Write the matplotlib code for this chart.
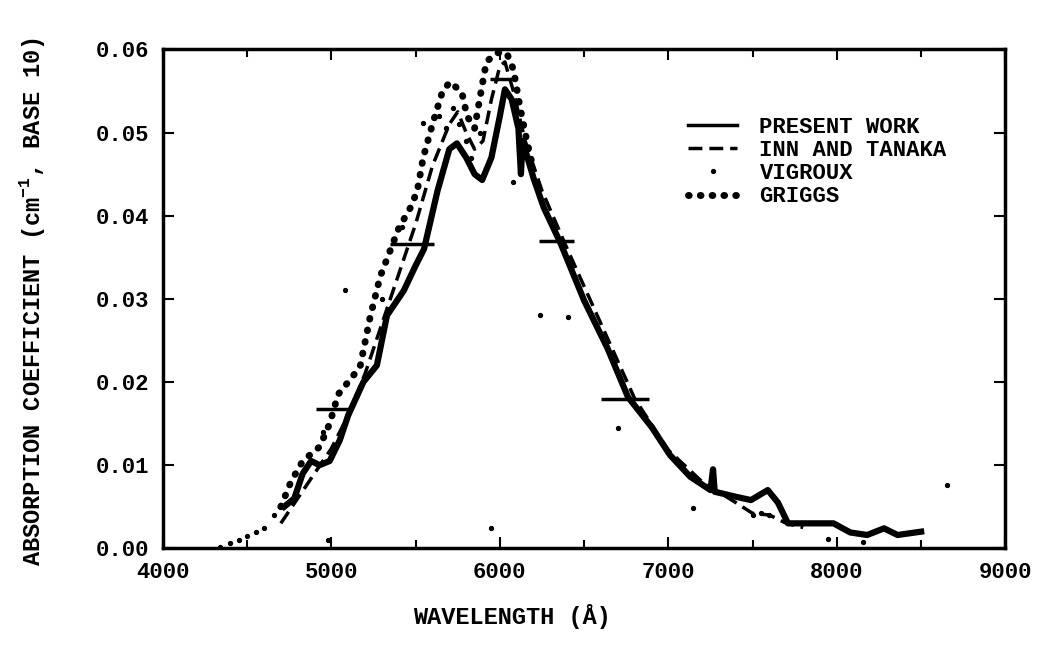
import matplotlib
matplotlib.use('Agg')
import matplotlib.pyplot as plt
from matplotlib.ticker import MultipleLocator

plt.rcParams['font.family'] = ['Liberation Mono', 'DejaVu Sans Mono']
plt.rcParams['font.weight'] = 'bold'
plt.rcParams['mathtext.fontset'] = 'custom'
plt.rcParams['mathtext.rm'] = 'Liberation Mono:bold'

# present work (solid)
pw_x = [4720, 4780, 4830, 4880, 4930, 4990, 5050, 5100, 5190, 5270, 5330, 5430,
        5500, 5550, 5630, 5700, 5745, 5800, 5850, 5895, 5950, 6000, 6030, 6070,
        6110, 6125, 6135, 6200, 6260, 6360, 6500, 6640, 6760, 6900, 7010, 7130,
        7250, 7265, 7275, 7400, 7490, 7590, 7650, 7710, 7850, 7980, 8080, 8180,
        8280, 8360, 8500]
pw_y = [0.0050, 0.0060, 0.0090, 0.0105, 0.0100, 0.0105, 0.0130, 0.0160, 0.0200,
        0.0220, 0.0280, 0.0310, 0.0340, 0.0360, 0.0430, 0.0480, 0.0487, 0.0470,
        0.0450, 0.0443, 0.0470, 0.0520, 0.0552, 0.0540, 0.0505, 0.0450, 0.0490,
        0.0445, 0.0410, 0.0367, 0.0298, 0.0240, 0.0182, 0.0146, 0.0112, 0.0086,
        0.0070, 0.0095, 0.0068, 0.0062, 0.0058, 0.0070, 0.0055, 0.0030, 0.0030,
        0.0030, 0.0019, 0.0016, 0.0024, 0.0016, 0.0020]

# Inn and Tanaka (dashed)
it_x = [4700, 4800, 4900, 5000, 5100, 5200, 5300, 5400, 5500, 5600, 5700, 5750,
        5800, 5850, 5900, 5950, 6000, 6030, 6080, 6150, 6250, 6400, 6600, 6800,
        7000, 7200, 7400, 7500, 7600, 7700, 7800]
it_y = [0.0030, 0.0060, 0.0090, 0.0120, 0.0160, 0.0210, 0.0270, 0.0330, 0.0390,
        0.0460, 0.0510, 0.0525, 0.0500, 0.0480, 0.0490, 0.0540, 0.0580, 0.0585,
        0.0550, 0.0490, 0.0430, 0.0360, 0.0270, 0.0180, 0.0118, 0.0080, 0.0055,
        0.0042, 0.0040, 0.0030, 0.0025]

# Vigroux (points)
vg_x = [4340, 4400, 4450, 4500, 4550, 4600, 4660, 4950, 4980, 5081, 5150, 5300,
        5420, 5544, 5640, 5680, 5720, 5760, 5800, 5830, 5880, 5945, 6080, 6239,
        6405, 6700, 7147, 7500, 7550, 7600, 7950, 8157, 8655]
vg_y = [0.0002, 0.0006, 0.0010, 0.0015, 0.0020, 0.0025, 0.0040, 0.0140, 0.0010,
        0.0311, 0.0185, 0.0300, 0.0387, 0.0512, 0.0520, 0.0505, 0.0530, 0.0510,
        0.0490, 0.0470, 0.0500, 0.0025, 0.0440, 0.0281, 0.0278, 0.0145, 0.0048,
        0.0040, 0.0042, 0.0040, 0.0011, 0.0007, 0.0076]

# Griggs (heavy dots)
gr_x = [4700, 4760, 4830, 4930, 4990, 5040, 5100, 5170, 5230, 5290, 5400, 5470,
        5510, 5545, 5600, 5660, 5705, 5775, 5805, 5850, 5880, 5920, 5980, 6040,
        6080, 6120, 6160, 6200]
gr_y = [0.0050, 0.0080, 0.0105, 0.0122, 0.0150, 0.0185, 0.0200, 0.0218, 0.0278,
        0.0327, 0.0385, 0.0410, 0.0430, 0.0470, 0.0510, 0.0550, 0.0561, 0.0548,
        0.0520, 0.0505, 0.0540, 0.0585, 0.0596, 0.0596, 0.0576, 0.0530, 0.0490,
        0.0455]

# horizontal bars
bar_x0 = [4910, 5350, 5940, 6230, 6600]
bar_x1 = [5120, 5610, 6080, 6440, 6885]
bar_y = [0.0168, 0.0366, 0.0565, 0.0370, 0.0180]

fig = plt.figure(figsize=(10.44, 6.59), dpi=100)
ax = fig.add_axes([0.156, 0.168, 0.807, 0.757])

ax.plot(pw_x, pw_y, '-', color='black', lw=4.5, solid_joinstyle='round',
        label='PRESENT WORK')
ax.plot(it_x, it_y, color='black', lw=2.5, dashes=(4, 2), label='INN AND TANAKA')
ax.plot(vg_x, vg_y, 'o', color='black', ms=2.8, label='VIGROUX')
ax.plot(gr_x, gr_y, color='black', lw=5, linestyle=(0, (0.1, 1.6)),
        dash_capstyle='round', label='GRIGGS')
ax.hlines(bar_y, bar_x0, bar_x1, color='black', lw=2.5)

ax.set_xlim(4000, 9000)
ax.set_ylim(0, 0.06)
ax.xaxis.set_major_locator(MultipleLocator(1000))
ax.xaxis.set_minor_locator(MultipleLocator(500))
ax.yaxis.set_major_locator(MultipleLocator(0.01))
ax.yaxis.set_major_formatter(plt.FormatStrFormatter('%.2f'))
ax.tick_params(which='both', direction='in', top=True, right=True, width=1.5)
ax.tick_params(which='major', length=8, labelsize=16, pad=10)
ax.tick_params(which='minor', length=6)
for s in ax.spines.values():
    s.set_linewidth(2.5)

leg = ax.legend(loc='upper left', bbox_to_anchor=(0.6, 0.905), frameon=False,
                fontsize=16, handlelength=2.2, labelspacing=0.1, handletextpad=1.0,
                numpoints=1)
leg.get_lines()[0].set_linewidth(2.5)

fig.text(0.031, 0.542, r'ABSORPTION COEFFICIENT (cm$^{\mathregular{-1}}$, BASE 10)',
         rotation=90, ha='center', va='center', fontsize=17)
fig.text(0.49, 0.064, 'WAVELENGTH (Å)', ha='center', va='center', fontsize=17)

fig.savefig('out.png', dpi=100)
